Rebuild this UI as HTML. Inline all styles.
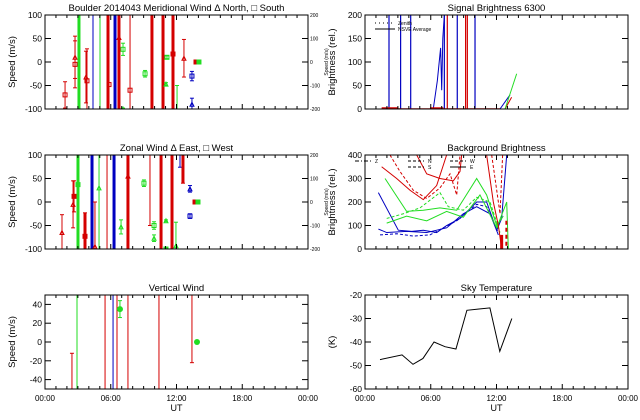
<!DOCTYPE html>
<html><head><meta charset="utf-8"><style>
html,body{margin:0;background:#fff;width:640px;height:420px;overflow:hidden}
svg{display:block;font-family:"Liberation Sans",sans-serif}
</style></head><body>
<svg id="c" width="640" height="420" viewBox="0 0 640 420"></svg>
<script>
// ---- data ----
// Meridional wind
const merT=[1.83,2.74,2.74,3.10,3.74,3.83,4.38,5.02,5.75,5.84,6.39,6.75,7.12,7.12,7.76,9.13,9.76,10.77,11.13,11.04,11.68,12.05,12.68,13.41,13.41,13.78,14.05];
const merV=[-70,10,-5,-35,-32,-40,0,0,0,-48,0,52,27,-100,-60,-25,0,0,10,-47,17,-75,8,-30,-90,0,0];
const merE=[28,45,50,300,55,68,300,300,300,300,300,300,13,2,300,7,300,300,3,3,300,25,40,10,13,0,0];
const merC=['r','r','r','g','r','r','b','g','r','r','b','r','g','g','r','g','r','r','g','g','r','g','r','b','b','r','g'];
const merM=['s','t','s','n','t','s','n','n','n','s','n','t','s','t','s','s','n','n','s','t','f','n','t','s','t','f','f'];
const merW=[1,1,1,3,1,1,1,1,3,1,3,3,1,1,1,1,3,3,1,1,3,1,1,1,1,1,1];
// Zonal wind
const zonT=[1.55,2.56,2.65,3.01,3.65,4.29,4.56,4.93,5.66,6.30,7.57,6.94,9.03,9.58,9.95,9.95,10.59,11.04,11.04,11.59,11.95,12.32,12.59,13.23,13.23,13.69,13.96];
const zonV=[-65,-5,12,37,-73,0,-95,30,0,0,55,-53,40,25,-50,-77,0,-40,-100,0,-93,87,70,28,-30,0,0];
const zonE=[38,50,33,300,50,300,95,300,300,300,300,15,7,75,8,7,300,2,2,300,50,13,30,7,5,0,0];
const zonC=['r','r','r','g','r','b','r','g','r','b','r','g','g','r','g','g','r','g','g','r','g','b','r','b','b','r','g'];
const zonM=['t','t','f','s','f','n','t','t','n','n','t','t','s','n','s','t','n','t','s','n','t','n','n','t','s','f','f'];
const zonW=[1,1,1,3,3,3,1,1,1,3,3,1,1,1,1,1,3,1,1,3,1,1,3,1,1,1,1];
// Vertical wind
const verT=[2.46,2.92,5.48,6.21,6.57,6.84,7.57,10.40,13.41,13.87];
const verV=[-31,0,0,0,0,35,0,0,14,0];
const verE=[19,300,300,300,300,9,300,300,36,0];
const verC=['r','g','r','b','r','g','r','r','r','g'];
const verM=['n','n','n','n','n','c','n','n','n','c'];
// Sky temperature
const skyT=[1.37,3.38,4.38,5.29,6.30,7.30,8.30,9.30,10.30,11.40,12.30,13.40];
const skyV=[-47.5,-45.5,-49.5,-47,-40,-42,-43,-26.5,-26,-25.5,-44,-30];
// Signal brightness
const sigVertT=[2.19,3.25,4.17,7.24,8.42,10.04,7.51,9.18,9.34];
const sigVertC=['b','b','b','b','b','b','r','r','r'];
const sigBlueT=[6.23,6.6,6.9,7.0,7.1,7.24];
const sigBlueV=[0,60,130,40,150,200];
const sigBaseT=[1.52,3.04,5.93,7.15,12.32];
const sigBaseV=[0,0,0,0,0];
const sigEndBT=[12.32,13.23];const sigEndBV=[0,30];
const sigEndRT=[12.78,13.38];const sigEndRV=[0,25];
const sigEndGT=[12.78,13.84];const sigEndGV=[0,75];
// Background brightness
const bgSeries=[
 {c:'b',t:[1.22,3.04,4.26,5.32,6.54,7.45,8.67,10.19,11.10,12.02,12.47,12.93],v:[240,80,75,80,70,100,130,200,200,80,130,400]},
 {c:'b',t:[1.37,2.89,4.41,5.93,7.15,8.37,10.19,11.10,12.17],v:[60,65,55,60,90,120,190,180,70]},
 {c:'b',t:[1.22,1.98,3.80,5.63,7.45,8.97,10.19,11.41,12.17],v:[85,70,75,70,90,150,180,150,60]},
 {c:'g',t:[1.83,3.80,5.32,6.84,8.37,10.19,11.10,12.02,12.62],v:[300,160,165,175,165,300,230,100,140]},
 {c:'g',t:[1.98,3.50,5.02,6.84,7.60,8.97,10.19,11.41,12.32],v:[130,150,175,240,180,165,220,200,70]},
 {c:'g',t:[1.98,3.80,5.63,7.45,8.97,10.49,12.02,12.93,13.08],v:[110,140,120,160,135,230,90,200,0]},
 {c:'r',t:[1.52,2.89,4.11,5.32,6.54,7.45],v:[350,300,250,210,270,400]},
 {c:'r',t:[2.28,3.19,4.41,5.63,6.84,7.76,8.37,8.67],v:[400,330,250,215,260,320,230,400]},
 {c:'r',t:[4.72,5.63,6.84,8.06,8.67,8.82],v:[400,320,300,290,330,400]},
 {c:'r',t:[11.10,11.71,12.17,12.47],v:[400,200,100,0]},
 {c:'r',t:[11.56,12.02,12.32,12.56],v:[400,250,150,400]}
];
const col={r:'#d40000',g:'#22dd22',b:'#0000c0',k:'#000'};
// ---- drawing ----
const svg=document.getElementById('c');
const NS='http://www.w3.org/2000/svg';
function mk(tag,attrs,parent){const e=document.createElementNS(NS,tag);for(const k in attrs)e.setAttribute(k,attrs[k]);(parent||svg).appendChild(e);return e;}
function txt(x,y,s,size,anchor,rot,name){const e=mk('text',{x:x,y:y,'font-size':size,'text-anchor':anchor||'middle',fill:'#000'});if(rot)e.setAttribute('transform','rotate(-90 '+x+' '+y+')');e.textContent=s;


return e;}
let clipId=0;
function panel(p){
 const g=mk('g',{});
 
 
 const X=t=>p.x0+(t/24)*(p.x1-p.x0);
 const Y=v=>p.y1-(v-p.ymin)/(p.ymax-p.ymin)*(p.y1-p.y0);
 const id='cl'+(clipId++);
 const cp=mk('clipPath',{id:id},g);mk('rect',{x:p.x0,y:p.y0,width:p.x1-p.x0,height:p.y1-p.y0},cp);
 const plot=mk('g',{'clip-path':'url(#'+id+')'},g);
 
 
 p.X=X;p.Y=Y;p.plot=plot;
 const fr=mk('rect',{x:p.x0,y:p.y0,width:p.x1-p.x0,height:p.y1-p.y0,fill:'none',stroke:'#000','stroke-width':1},g);
 
 
 for(let h=0;h<=24;h++){const x=X(h);const L=h%6==0?5:3;
  mk('line',{x1:x,y1:p.y1,x2:x,y2:p.y1-L,stroke:'#000'},g);mk('line',{x1:x,y1:p.y0,x2:x,y2:p.y0+L,stroke:'#000'},g);}
 if(p.xlabels){['00:00','06:00','12:00','18:00','00:00'].forEach((s,i)=>txt(X(i*6),p.y1+12,s,8,'middle',false,'x-tick-label'));
  txt((p.x0+p.x1)/2,p.y1+22,'UT',9,'middle',false,'x-axis-title');}
 p.yticks.forEach(v=>{const y=Y(v);mk('line',{x1:p.x0,y1:y,x2:p.x0+6,y2:y,stroke:'#000'},g);mk('line',{x1:p.x1,y1:y,x2:p.x1-6,y2:y,stroke:'#000'},g);
  txt(p.x0-3,y+3,String(v),8.5,'end',false,'y-tick-label');});
 if(p.right){p.right.forEach((s,i)=>{const y=p.y1-i*(p.y1-p.y0)/(p.right.length-1);txt(p.x1+2,y+2,s,5,'start',false,'right-tick-label');});}
 txt(p.x0-30,(p.y0+p.y1)/2,p.ytitle,9.5,'middle',true,'y-axis-title');
 txt((p.x0+p.x1)/2,p.y0-4,p.title,9.5,'middle',false,'panel-title');
 return p;
}
function winds(p,T,V,E,C,M,W){
 for(let i=0;i<T.length;i++){
  const x=p.X(T[i]),c=col[C[i]],w=W?W[i]:1;
  if(E[i]>0){const a=p.Y(V[i]+E[i]),b=p.Y(V[i]-E[i]);
   const l=mk('line',{x1:x,y1:a,x2:x,y2:b,stroke:c,'stroke-width':w},p.plot);
   
   
   mk('line',{x1:x-2,y1:a,x2:x+2,y2:a,stroke:c},p.plot);mk('line',{x1:x-2,y1:b,x2:x+2,y2:b,stroke:c},p.plot);}
  const y=p.Y(V[i]);let m=null;
  if(M[i]=='s')m=mk('rect',{x:x-2,y:y-2,width:4,height:4,fill:'none',stroke:c},p.plot);
  else if(M[i]=='f')m=mk('rect',{x:x-2.5,y:y-2.5,width:5,height:5,fill:c},p.plot);
  else if(M[i]=='t')m=mk('polygon',{points:(x-2)+','+(y+2)+' '+(x+2)+','+(y+2)+' '+x+','+(y-2),fill:'none',stroke:c},p.plot);
  else if(M[i]=='c')m=mk('circle',{cx:x,cy:y,r:3,fill:c},p.plot);
  if(m){
   }
 }
}
function line(p,T,V,c,w,dash){const pts=T.map((t,i)=>p.X(t)+','+p.Y(V[i])).join(' ');
 const l=mk('polyline',{points:pts,fill:'none',stroke:col[c],'stroke-width':w||1},p.plot);if(dash)l.setAttribute('stroke-dasharray',dash);
 
 
 return l;}

const P1=panel({name:'meridional-wind-panel',x0:45,x1:308,y0:15,y1:109,ymin:-100,ymax:100,yticks:[-100,-50,0,50,100],ytitle:'Speed (m/s)',title:'Boulder   2014043     Meridional Wind   \u0394 North, \u25a1 South',right:['-200','-100','0','100','200']});
winds(P1,merT,merV,merE,merC,merM,merW);
const P3=panel({name:'zonal-wind-panel',x0:45,x1:308,y0:155,y1:249,ymin:-100,ymax:100,yticks:[-100,-50,0,50,100],ytitle:'Speed (m/s)',title:'Zonal Wind      \u0394 East, \u25a1 West',right:['-200','-100','0','100','200']});
winds(P3,zonT,zonV,zonE,zonC,zonM,zonW);
const P5=panel({name:'vertical-wind-panel',x0:45,x1:308,y0:295,y1:389,ymin:-50,ymax:50,yticks:[-40,-20,0,20,40],ytitle:'Speed (m/s)',title:'Vertical Wind',xlabels:true});
winds(P5,verT,verV,verE,verC,verM,null);
const P2=panel({name:'signal-brightness-panel',x0:365,x1:628,y0:15,y1:109,ymin:0,ymax:200,yticks:[0,50,100,150,200],ytitle:'Brightness (rel.)',title:'Signal Brightness      6300'});
sigVertT.forEach((t,i)=>line(P2,[t,t],[0,210],sigVertC[i],1.2));
line(P2,sigBlueT,sigBlueV,'b',1);
line(P2,sigBaseT,sigBaseV,'r',1.5);
line(P2,[1.52,3.04],[1,1],'r',2.5);line(P2,[5.93,7.15],[1,1],'r',2.5);
line(P2,sigEndBT,sigEndBV,'b');line(P2,sigEndRT,sigEndRV,'r');line(P2,sigEndGT,sigEndGV,'g');
mk('line',{x1:375,y1:23,x2:395,y2:23,stroke:'#000','stroke-dasharray':'1,3'});
mk('line',{x1:375,y1:29,x2:395,y2:29,stroke:'#000'});
txt(398,25,'Zenith',5,'start',false,'legend-zenith');
txt(398,31,'NSVE Average',5,'start',false,'legend-nsve-average');
const P4=panel({name:'background-brightness-panel',x0:365,x1:628,y0:155,y1:249,ymin:0,ymax:400,yticks:[0,100,200,300,400],ytitle:'Brightness (rel.)',title:'Background Brightness'});
bgSeries.forEach((s,i)=>line(P4,s.t,s.v,s.c,1,i%3==1?'3,2':null));
line(P4,[12.47,12.47],[60,0],'r',3);line(P4,[12.9,12.9],[120,0],'r',2,'4,3');
[['Z',375,163],['N',428,163],['W',470,163],['S',428,169],['E',470,169]].forEach(a=>{
 const l=mk('line',{x1:a[1]-20,y1:a[2]-2,x2:a[1]-4,y2:a[2]-2,stroke:'#000','stroke-dasharray':a[0]=='Z'?'4,2,1,2':a[0]=='E'?'':'3,2'});
 txt(a[1],a[2],a[0],5,'start',false,'legend-'+a[0].toLowerCase());});
const P6=panel({name:'sky-temperature-panel',x0:365,x1:628,y0:295,y1:389,ymin:-60,ymax:-20,yticks:[-60,-50,-40,-30,-20],ytitle:'(K)',title:'Sky Temperature',xlabels:true});
line(P6,skyT,skyV,'k',1);
txt(328,62,'Speed (m/s)',5,'middle',true,'right-axis-title');
txt(328,202,'Speed (m/s)',5,'middle',true,'right-axis-title');
</script>
</body></html>
